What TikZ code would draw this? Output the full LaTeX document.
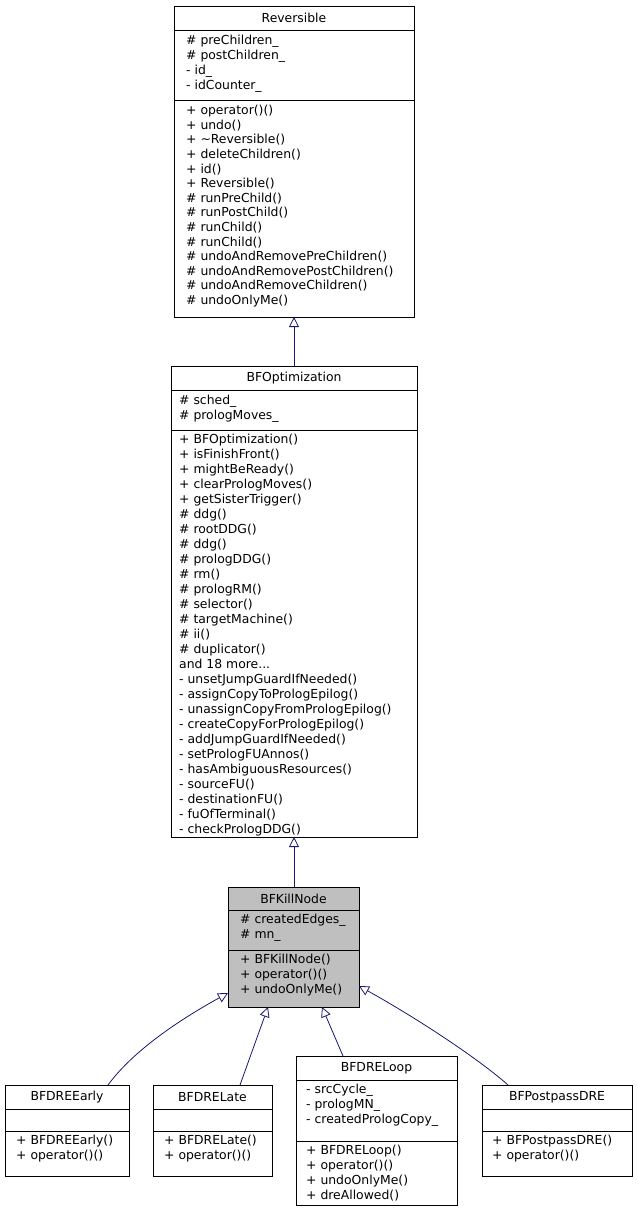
\documentclass[tikz,border=0pt]{standalone}
\usepackage{fontspec}
\setmainfont{DejaVu Sans}
\usetikzlibrary{arrows.meta}
\definecolor{edge}{HTML}{191970}
\begin{document}
\begin{tikzpicture}[x=1pt,y=-1pt,
  box/.style={draw=black,line width=0.8pt,anchor=north west,inner sep=0pt},
  txt/.style={anchor=north west,align=left,inner sep=0pt,font=\fontsize{12.4}{15}\selectfont},
  ttl/.style={anchor=center,inner sep=0pt,font=\fontsize{12.4}{15}\selectfont},
  inh/.style={draw=edge,line width=0.8pt,{Triangle[open,length=10pt,width=10pt,fill=white]}-}]
\useasboundingbox (0,0) rectangle (637,1212);
\newcommand{\umlclass}[9]{%
  \fill[#9] (#2,#3) rectangle (#4,#5);
  \node[box,minimum width={#4-#2},minimum height={#5-#3}] (#1) at (#2,#3) {};
  \draw[line width=0.8pt] (#2,#6) -- (#4,#6);
  \draw[line width=0.8pt] (#2,#7) -- (#4,#7);
  \node[ttl] (#1t) at ({(#2+#4)/2},{(#3+#6)/2}) {#8};}
\umlclass{R}{174}{6}{414}{317}{30}{100}{Reversible}{white}
\node[txt] (Ra) at (186,35) {\# preChildren\_\\\# postChildren\_\\- id\_\\- idCounter\_};
\node[txt,font=\fontsize{12.4}{14.6}\selectfont] (Rm) at (186,105) {+ operator()()\\+ undo()\\+ \textasciitilde Reversible()\\+ deleteChildren()\\+ id()\\+ Reversible()\\\# runPreChild()\\\# runPostChild()\\\# runChild()\\\# runChild()\\\# undoAndRemovePreChildren()\\\# undoAndRemovePostChildren()\\\# undoAndRemoveChildren()\\\# undoOnlyMe()};
\umlclass{O}{171}{366}{417}{837}{390}{430}{BFOptimization}{white}
\node[txt] (Oa) at (179,395) {\# sched\_\\\# prologMoves\_};
\node[txt] (Om) at (179,434) {+ BFOptimization()\\+ isFinishFront()\\+ mightBeReady()\\+ clearPrologMoves()\\+ getSisterTrigger()\\\# ddg()\\\# rootDDG()\\\# ddg()\\\# prologDDG()\\\# rm()\\\# prologRM()\\\# selector()\\\# targetMachine()\\\# ii()\\\# duplicator()\\and 18 more...\\- unsetJumpGuardIfNeeded()\\- assignCopyToPrologEpilog()\\- unassignCopyFromPrologEpilog()\\- createCopyForPrologEpilog()\\- addJumpGuardIfNeeded()\\- setPrologFUAnnos()\\- hasAmbiguousResources()\\- sourceFU()\\- destinationFU()\\- fuOfTerminal()\\- checkPrologDDG()};
\umlclass{K}{228}{887}{359}{1007}{910}{950}{BFKillNode}{black!25}
\node[txt] (Ka) at (240,914) {\# createdEdges\_\\\# mn\_};
\node[txt] (Km) at (240,954) {+ BFKillNode()\\+ operator()()\\+ undoOnlyMe()};
\umlclass{E}{5}{1085}{129}{1176}{1109}{1131}{BFDREEarly}{white}
\node[txt] (Em) at (16,1135) {+ BFDREEarly()\\+ operator()()};
\umlclass{L}{153}{1085}{272}{1176}{1109}{1131}{BFDRELate}{white}
\node[txt] (Lm) at (164,1135) {+ BFDRELate()\\+ operator()()};
\umlclass{P}{296}{1056}{457}{1205}{1080}{1141}{BFDRELoop}{white}
\node[txt] (Pa) at (306,1084) {- srcCycle\_\\- prologMN\_\\- createdPrologCopy\_};
\node[txt] (Pm) at (306,1145) {+ BFDRELoop()\\+ operator()()\\+ undoOnlyMe()\\+ dreAllowed()};
\umlclass{D}{482}{1085}{632}{1176}{1109}{1131}{BFPostpassDRE}{white}
\node[txt] (Dm) at (492,1135) {+ BFPostpassDRE()\\+ operator()()};
\coordinate (Rb) at (294,317); \coordinate (Ot) at (294,366);
\coordinate (Ob) at (294,837); \coordinate (Kt) at (294,887);
\draw[inh] (Rb) -- (Ot);
\draw[inh] (Ob) -- (Kt);
\coordinate (K1) at (228,993); \coordinate (E1) at (108,1085);
\coordinate (K2) at (268,1007); \coordinate (L1) at (240,1085);
\coordinate (K3) at (322,1007); \coordinate (P1) at (343,1056);
\coordinate (K4) at (359,986); \coordinate (D1) at (508,1085);
\draw[inh] (K1) .. controls (170,1025) and (130,1055) .. (E1);
\draw[inh] (K2) -- (L1);
\draw[inh] (K3) -- (P1);
\draw[inh] (K4) .. controls (420,1020) and (480,1060) .. (D1);
\end{tikzpicture}
\end{document}
